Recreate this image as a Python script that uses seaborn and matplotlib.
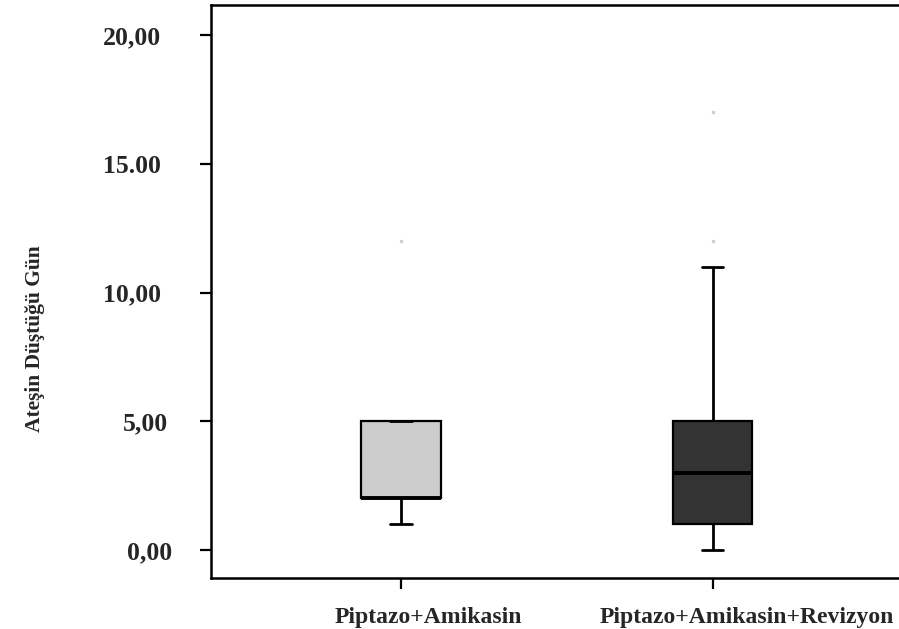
import matplotlib
matplotlib.use("Agg")
import matplotlib.pyplot as plt
import matplotlib.transforms as mtransforms
import seaborn as sns
import pandas as pd
import numpy as np

# ---- data ----
groups = ["Piptazo+Amikasin", "Piptazo+Amikasin+Revizyon"]
values_g1 = [1, 2, 2, 2, 2, 5, 5, 5, 12]
values_g2 = [0, 1, 1, 1, 2, 2, 3, 4, 4, 5, 11, 12, 17]
box_colors = ["#cccccc", "#333333"]
ytick_values = [0, 5, 10, 15, 20]
ytick_labels = ["0,00", "5,00", "10,00", "15.00", "20,00"]
ylabel_text = "Ateşin Düştüğü Gün"

df = pd.DataFrame({
    "group": [groups[0]] * len(values_g1) + [groups[1]] * len(values_g2),
    "value": values_g1 + values_g2,
})

sns.set_style("white")
plt.rcParams["font.family"] = ["Liberation Serif", "DejaVu Serif"]
plt.rcParams["font.weight"] = "bold"

W, H = 899, 629
fig = plt.figure(figsize=(W / 100, H / 100), dpi=100)
ax_top, ax_bot = 5, 577.5
ax = fig.add_axes([211 / W, (H - ax_bot) / H, (W - 211) / W, (ax_bot - ax_top) / H])

sns.boxplot(
    data=df, x="group", y="value", hue="group", order=groups, hue_order=groups,
    palette=box_colors, legend=False, ax=ax, width=0.254, whis=1.5,
    linecolor="black", linewidth=1.6, saturation=1,
    capwidths=0.068,
    medianprops=dict(color="black", linewidth=2.8),
    whiskerprops=dict(color="black", linewidth=2.0),
    capprops=dict(color="black", linewidth=2.0),
    flierprops=dict(marker="s", markersize=1.4, markerfacecolor="#cfcfcf",
                    markeredgecolor="#cfcfcf", linestyle="none"),
)

ax.set_xlim(-0.610, 1.598)
ax.set_ylim(-1.07, 21.17)
ax.set_yticks(ytick_values)
ax.set_yticklabels(ytick_labels)
ax.set_xlabel("")
ax.set_ylabel(ylabel_text, fontsize=15.5, fontweight="bold", labelpad=42)

for side in ["top", "left", "bottom"]:
    ax.spines[side].set_visible(True)
    ax.spines[side].set_color("black")
    ax.spines[side].set_linewidth(1.8)
ax.spines["right"].set_visible(False)

ax.tick_params(axis="y", direction="out", length=8, width=1.6, color="black",
               labelsize=18.5, pad=28, left=True)
ax.tick_params(axis="x", direction="out", length=8, width=1.6, color="black",
               labelsize=17, pad=13, bottom=True)
for lab in ax.get_yticklabels() + ax.get_xticklabels():
    lab.set_fontweight("bold")

# small per-label horizontal offsets seen in the reference
y_shift = {"5,00": 7, "0,00": 11}
for lab in ax.get_yticklabels():
    dx = y_shift.get(lab.get_text(), 0)
    if dx:
        lab.set_transform(lab.get_transform() + mtransforms.ScaledTranslation(dx / 100, 0, fig.dpi_scale_trans))
x_shift = [27, 34]
for lab, dx in zip(ax.get_xticklabels(), x_shift):
    lab.set_transform(lab.get_transform() + mtransforms.ScaledTranslation(dx / 100, 0, fig.dpi_scale_trans))

# y-label centred at about y = 339 px from the top
ax.yaxis.label.set_position((0, (ax_bot - 339) / (ax_bot - ax_top)))
fig.savefig("out.png", dpi=100)
